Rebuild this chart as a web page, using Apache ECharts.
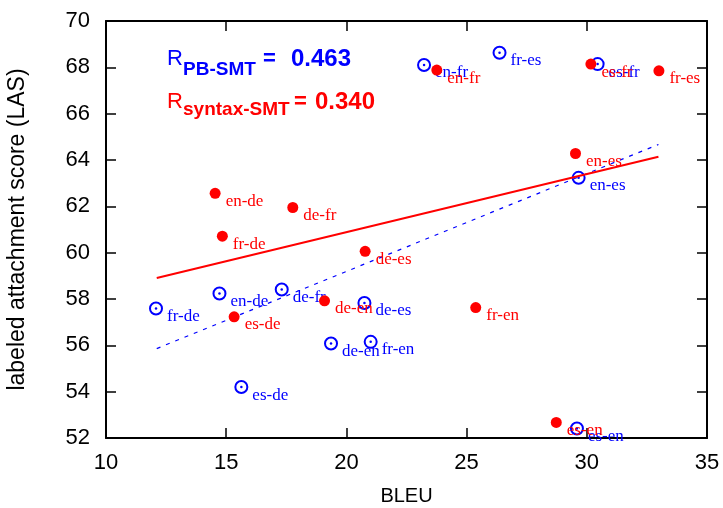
<!DOCTYPE html>
<html>
<head>
<meta charset="utf-8">
<script src="https://cdn.jsdelivr.net/npm/echarts@6/dist/echarts.min.js"></script>
<style>html,body{margin:0;padding:0;background:#fff;}#c{width:723px;height:508px;}</style>
</head>
<body>
<div id="c"></div>
<script>
// language pairs (same order for both systems)
const pairs = ['en-fr','fr-es','es-fr','es-en','en-es','fr-de','en-de','de-fr','de-es','de-en','fr-en','es-de'];
// PB-SMT (blue open circles)
const pbBleu = [23.23, 26.37, 30.45, 29.59, 29.66, 12.08, 14.72, 17.31, 20.75, 19.36, 21.01, 15.63];
const pbLas  = [68.10, 68.63, 68.14, 52.41, 63.23, 57.59, 58.24, 58.41, 57.83, 56.08, 56.15, 54.20];
// syntax-SMT (red filled circles)
const synBleu = [23.76, 33.00, 30.17, 28.73, 29.53, 14.84, 14.54, 17.77, 20.78, 19.09, 25.38, 15.33];
const synLas  = [67.88, 67.85, 68.14, 52.67, 64.28, 60.71, 62.56, 61.95, 60.06, 57.92, 57.63, 57.23];
// regression line endpoints
const fitX = [12.11, 32.98];
const pbFitY = [55.86, 64.67];
const synFitY = [58.91, 64.14];
// axis ticks
const xTicks = {min: 10, max: 35, interval: 5};
const yTicks = {min: 52, max: 70, interval: 2};
const corr = {pb: '0.463', syn: '0.340'};

const BLUE = '#0000ff', RED = '#ff0000';
const mk = (xs, ys) => xs.map((x, i) => ({value: [x, ys[i]], name: pairs[i]}));
const line = (ys) => fitX.map((x, i) => [x, ys[i]]);

const chart = echarts.init(document.getElementById('c'), null, {renderer: 'canvas'});
const axisCommon = {
  axisLine: {show: true, onZero: false, lineStyle: {color: '#000', width: 2}},
  axisTick: {show: true, inside: true, length: 10, lineStyle: {color: '#000', width: 1.5}},
  splitLine: {show: false}
};
const tickFont = {color: '#000', fontFamily: 'Liberation Sans', fontSize: 22};
const labelCfg = (color, dist) => ({
  show: true, position: 'right', distance: dist, offset: [0, 8], formatter: '{b}',
  color: color, opacity: 1, fontFamily: 'Liberation Serif', fontSize: 17
});

chart.setOption({
  animation: false,
  grid: {left: 106, right: 16, top: 21, bottom: 70, containLabel: false, outerBoundsMode: 'none'},
  xAxis: [
    Object.assign({type: 'value', position: 'bottom', min: xTicks.min, max: xTicks.max, interval: xTicks.interval,
      axisLabel: Object.assign({margin: 14}, tickFont),
      name: 'BLEU', nameLocation: 'middle', nameGap: 48,
      nameTextStyle: {color: '#000', fontFamily: 'Liberation Sans', fontSize: 20}}, axisCommon),
    Object.assign({type: 'value', position: 'top', min: xTicks.min, max: xTicks.max, interval: xTicks.interval,
      axisLabel: {show: false}}, axisCommon)
  ],
  yAxis: [
    Object.assign({type: 'value', position: 'left', min: yTicks.min, max: yTicks.max, interval: yTicks.interval,
      axisLabel: Object.assign({margin: 16}, tickFont),
      name: 'labeled attachment score (LAS)', nameLocation: 'middle', nameGap: 77,
      nameTextStyle: {color: '#000', fontFamily: 'Liberation Sans', fontSize: 23}}, axisCommon),
    Object.assign({type: 'value', position: 'right', min: yTicks.min, max: yTicks.max, interval: yTicks.interval,
      axisLabel: {show: false}}, axisCommon)
  ],
  series: [
    {type: 'scatter', name: 'PB-SMT', data: mk(pbBleu, pbLas), symbol: 'emptyCircle', symbolSize: 12,
      itemStyle: {color: BLUE, borderColor: BLUE, borderWidth: 2, opacity: 1}, label: labelCfg(BLUE, 4), z: 2},
    {type: 'scatter', name: 'PB-SMT dot', data: mk(pbBleu, pbLas), symbol: 'circle', symbolSize: 2.5,
      itemStyle: {color: BLUE, opacity: 1}, silent: true, z: 3},
    {type: 'line', data: line(pbFitY), showSymbol: false, symbol: 'none',
      lineStyle: {color: BLUE, width: 1.2, type: [4, 6]}, z: 4},
    {type: 'scatter', name: 'syntax-SMT', data: mk(synBleu, synLas), symbol: 'circle', symbolSize: 11,
      itemStyle: {color: RED, opacity: 1}, label: labelCfg(RED, 5), z: 5},
    {type: 'line', data: line(synFitY), showSymbol: false, symbol: 'none',
      lineStyle: {color: RED, width: 2}, z: 6}
  ],
  graphic: [
    {type: 'text', left: 167, top: 48, style: {text: 'R', fill: BLUE, font: '22px "Liberation Sans"'}},
    {type: 'text', left: 183, top: 60, style: {text: 'PB-SMT', fill: BLUE, font: 'bold 19px "Liberation Sans"'}},
    {type: 'text', left: 263, top: 48, style: {text: '=', fill: BLUE, font: 'bold 22px "Liberation Sans"'}},
    {type: 'text', left: 291, top: 47, style: {text: corr.pb, fill: BLUE, font: 'bold 24px "Liberation Sans"'}},
    {type: 'text', left: 167, top: 91, style: {text: 'R', fill: RED, font: '22px "Liberation Sans"'}},
    {type: 'text', left: 183, top: 100, style: {text: 'syntax-SMT', fill: RED, font: 'bold 19px "Liberation Sans"'}},
    {type: 'text', left: 294, top: 91, style: {text: '=', fill: RED, font: 'bold 22px "Liberation Sans"'}},
    {type: 'text', left: 315, top: 90, style: {text: corr.syn, fill: RED, font: 'bold 24px "Liberation Sans"'}}
  ]
});
</script>
</body>
</html>
